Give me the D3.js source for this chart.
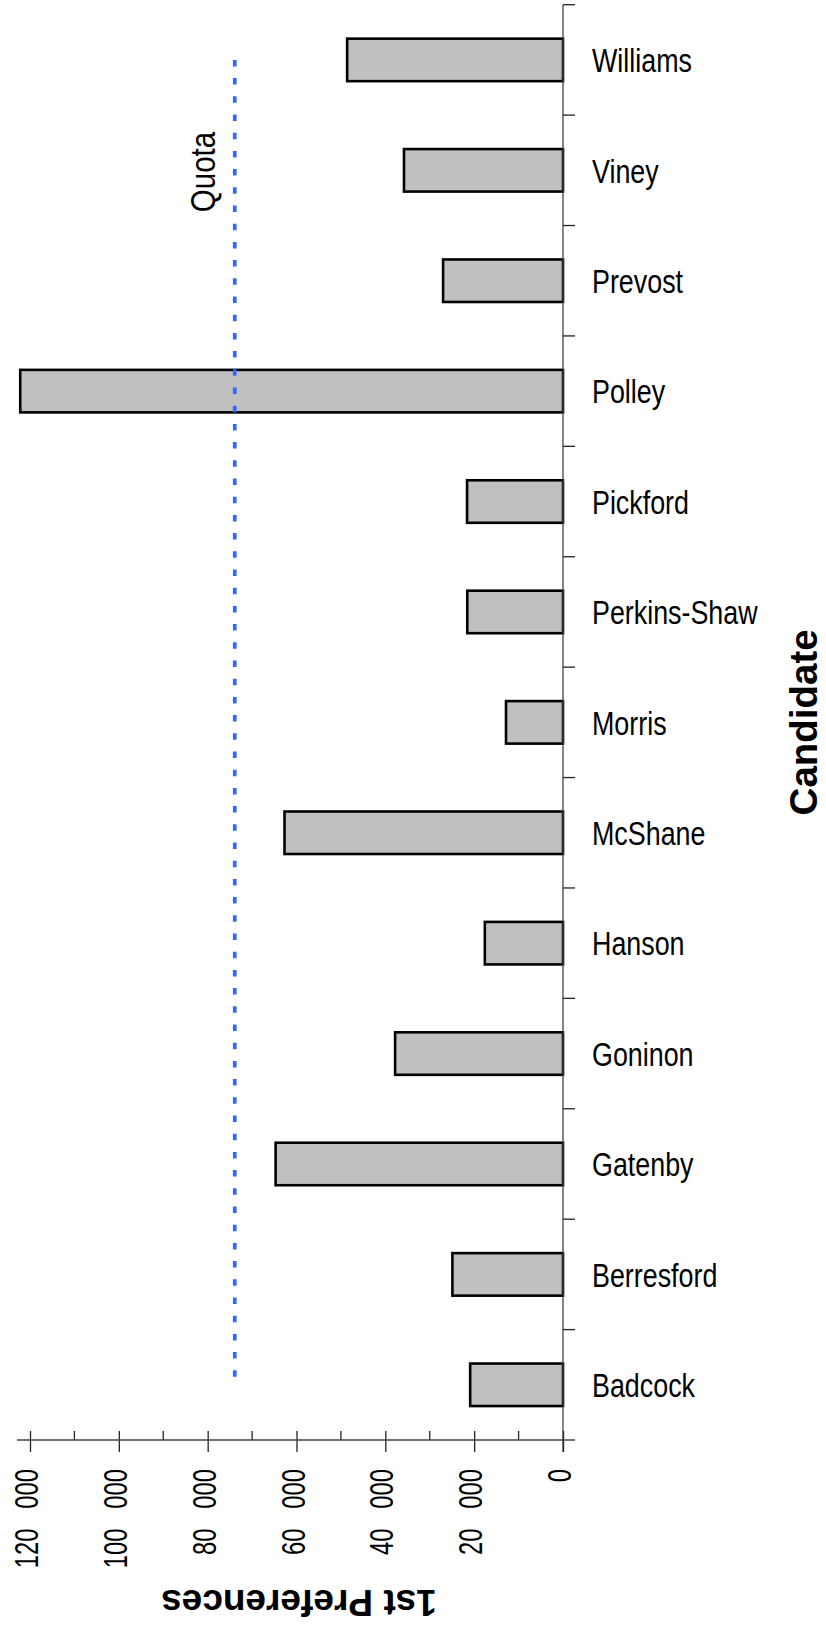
<!DOCTYPE html>
<html>
<head>
<meta charset="utf-8">
<script src="https://cdn.jsdelivr.net/npm/d3@7"></script>
<style>
  html, body { margin: 0; padding: 0; background: #fff; }
  svg { display: block; }
  .lbl { font-family: "Liberation Sans", Arial, Helvetica, sans-serif; fill: #000; }
  .title { font-family: "Liberation Sans", Arial, Helvetica, sans-serif; font-weight: bold; fill: #000; }
</style>
</head>
<body>
<script>
// First-preference votes by candidate, top to bottom
const candidates = ["Williams", "Viney", "Prevost", "Polley", "Pickford", "Perkins-Shaw",
  "Morris", "McShane", "Hanson", "Goninon", "Gatenby", "Berresford", "Badcock"];
const firstPreferences = [48600, 35800, 27000, 122200, 21600, 21550,
  12830, 62700, 17600, 37800, 64700, 24900, 20900];
const quota = 73900;
const majorTicks = [0, 20000, 40000, 60000, 80000, 100000, 120000];
const minorTicks = [10000, 30000, 50000, 70000, 90000, 110000];
const valueTitle = "1st Preferences";
const categoryTitle = "Candidate";
const quotaLabel = "Quota";

const W = 826, H = 1646;

const svg = d3.select("body").append("svg").attr("width", W).attr("height", H);
svg.append("rect").attr("width", W).attr("height", H).attr("fill", "#fff");

// Value axis runs right-to-left, categories run top-to-bottom
const x = d3.scaleLinear().domain([0, 120000]).range([563, 30]);
const y = d3.scaleBand().domain(candidates).range([4.7, 1440])
  .paddingInner(0.615).paddingOuter(0.3075);
const axisY = 1440;
const step = y.step();

// thousands separated by a wide gap, e.g. "120   000"
const fmt = d3.formatLocale({ decimal: ".", thousands: "\u00a0\u00a0\u00a0", grouping: [3], currency: ["", ""] }).format(",d");

// Bars
svg.append("g").selectAll("rect").data(candidates).join("rect")
  .attr("x", (d, i) => x(firstPreferences[i]))
  .attr("y", d => y(d))
  .attr("width", (d, i) => x(0) - x(firstPreferences[i]))
  .attr("height", y.bandwidth())
  .attr("fill", "#c0c0c0")
  .attr("stroke", "#000")
  .attr("stroke-width", 2.6);

// Quota line
const qTop = y(candidates[0]) + y.bandwidth() / 2;
const qBot = y(candidates[candidates.length - 1]) + y.bandwidth() / 2;
svg.append("line")
  .attr("x1", x(quota)).attr("x2", x(quota))
  .attr("y1", qTop).attr("y2", qBot)
  .attr("stroke", "#3366ff").attr("stroke-width", 3.7)
  .attr("stroke-dasharray", "6.5 11.7");

svg.append("text").attr("class", "lbl")
  .attr("transform", `translate(${x(quota) - 20},${172}) rotate(-90) scale(0.82,1)`)
  .attr("text-anchor", "middle")
  .attr("font-size", 36)
  .text(quotaLabel);

// Category axis (vertical line with boundary ticks to the right)
const gy = svg.append("g");
gy.append("line").attr("x1", x(0)).attr("x2", x(0)).attr("y1", y.range()[0]).attr("y2", axisY + 12)
  .attr("stroke", "#444").attr("stroke-width", 1.3);
const boundaries = candidates.map(c => y(c) + y.bandwidth() / 2 - step / 2);
gy.selectAll("line.tk").data(boundaries).join("line").attr("class", "tk")
  .attr("x1", x(0)).attr("x2", x(0) + 12)
  .attr("y1", d => d).attr("y2", d => d)
  .attr("stroke", "#222").attr("stroke-width", 1.3);
gy.selectAll("text").data(candidates).join("text").attr("class", "lbl")
  .attr("transform", d => `translate(${x(0) + 29},${y(d) + y.bandwidth() / 2}) scale(0.79,1)`)
  .attr("dy", "0.36em")
  .attr("font-size", 34)
  .text(d => d);

// Value axis
const gx = svg.append("g").attr("transform", `translate(0,${axisY})`);
gx.call(d3.axisBottom(x).tickValues(majorTicks).tickFormat(fmt).tickSize(12).tickPadding(28))
  .call(g => g.select(".domain").remove())
  .call(g => g.selectAll(".tick line").attr("y1", -9).attr("y2", 12).attr("stroke", "#222").attr("stroke-width", 1.3))
  .call(g => g.selectAll(".tick text")
    .attr("class", "lbl")
    .attr("font-size", 34)
    .attr("text-anchor", "end")
    .attr("dy", null)
    .attr("y", null)
    .attr("transform", "translate(7.5,29) rotate(-90) scale(0.7,1)"));
gx.attr("font-family", null).attr("font-size", null);
gx.selectAll("line.minor").data(minorTicks).join("line").attr("class", "minor")
  .attr("x1", d => x(d)).attr("x2", d => x(d))
  .attr("y1", -9).attr("y2", 0)
  .attr("stroke", "#222").attr("stroke-width", 1.3);
gx.append("line").attr("x1", 17).attr("x2", x(0) + 12).attr("y1", 0).attr("y2", 0)
  .attr("stroke", "#444").attr("stroke-width", 1.3);

// Axis titles
svg.append("text").attr("class", "title")
  .attr("transform", `translate(299,1590) rotate(180)`)
  .attr("text-anchor", "middle")
  .attr("font-size", 37)
  .text(valueTitle);
svg.append("text").attr("class", "title")
  .attr("transform", `translate(817,${(y.range()[0] + axisY) / 2}) rotate(-90)`)
  .attr("text-anchor", "middle")
  .attr("font-size", 38.5)
  .text(categoryTitle);
</script>
</body>
</html>
